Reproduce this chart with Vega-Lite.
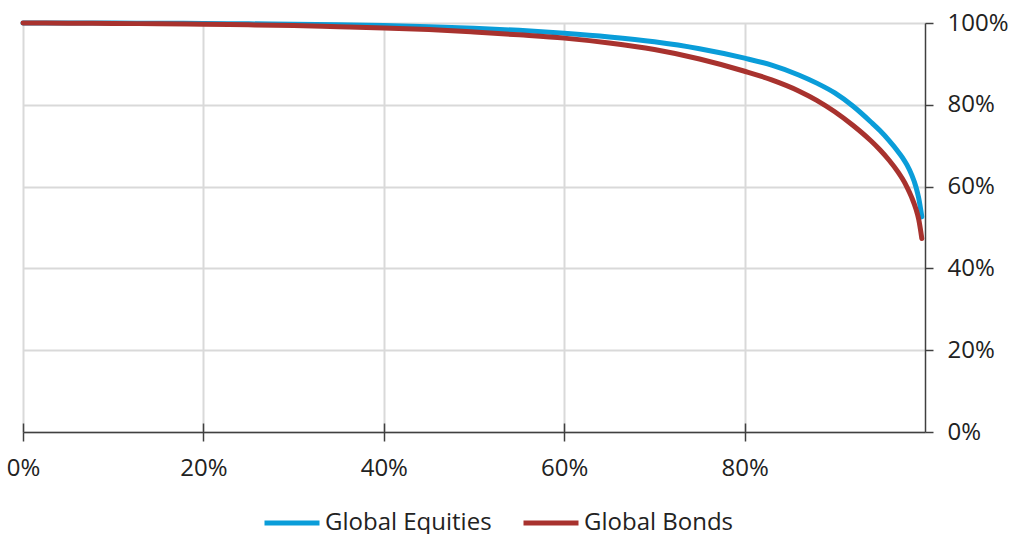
{
  "$schema": "https://vega.github.io/schema/vega-lite/v6.json",
  "autosize": {"type": "none"},
  "width": 902,
  "height": 409,
  "padding": {"left": 23, "top": 23, "right": 91, "bottom": 102},
  "background": "white",
  "config": {
    "font": "Open Sans",
    "view": {"stroke": null},
    "axis": {"labelFont": "Open Sans", "labelFontSize": 24, "labelColor": "#222222", "domainColor": "#404040", "domainWidth": 1.5, "tickColor": "#404040", "tickWidth": 1.5, "gridColor": "#d9d9d9", "gridWidth": 2, "title": null}
  },
  "data": {
    "values": [
      {"p": 0, "series": "Global Equities", "value": 1.0},
      {"p": 0.05, "series": "Global Equities", "value": 1.0},
      {"p": 0.1, "series": "Global Equities", "value": 0.9998},
      {"p": 0.15, "series": "Global Equities", "value": 0.9995},
      {"p": 0.2, "series": "Global Equities", "value": 0.999},
      {"p": 0.25, "series": "Global Equities", "value": 0.998},
      {"p": 0.3, "series": "Global Equities", "value": 0.997},
      {"p": 0.35, "series": "Global Equities", "value": 0.996},
      {"p": 0.4, "series": "Global Equities", "value": 0.994},
      {"p": 0.45, "series": "Global Equities", "value": 0.991},
      {"p": 0.5, "series": "Global Equities", "value": 0.987},
      {"p": 0.55, "series": "Global Equities", "value": 0.982},
      {"p": 0.6, "series": "Global Equities", "value": 0.975},
      {"p": 0.65, "series": "Global Equities", "value": 0.966},
      {"p": 0.7, "series": "Global Equities", "value": 0.954},
      {"p": 0.75, "series": "Global Equities", "value": 0.937},
      {"p": 0.8, "series": "Global Equities", "value": 0.914},
      {"p": 0.83, "series": "Global Equities", "value": 0.897},
      {"p": 0.86, "series": "Global Equities", "value": 0.873},
      {"p": 0.88, "series": "Global Equities", "value": 0.853},
      {"p": 0.9, "series": "Global Equities", "value": 0.829},
      {"p": 0.92, "series": "Global Equities", "value": 0.797},
      {"p": 0.94, "series": "Global Equities", "value": 0.758},
      {"p": 0.95, "series": "Global Equities", "value": 0.737},
      {"p": 0.96, "series": "Global Equities", "value": 0.713},
      {"p": 0.97, "series": "Global Equities", "value": 0.686},
      {"p": 0.975, "series": "Global Equities", "value": 0.671},
      {"p": 0.98, "series": "Global Equities", "value": 0.653},
      {"p": 0.985, "series": "Global Equities", "value": 0.63},
      {"p": 0.99, "series": "Global Equities", "value": 0.599},
      {"p": 0.993, "series": "Global Equities", "value": 0.572},
      {"p": 0.9965, "series": "Global Equities", "value": 0.526},
      {"p": 0, "series": "Global Bonds", "value": 1.0},
      {"p": 0.05, "series": "Global Bonds", "value": 0.9995},
      {"p": 0.1, "series": "Global Bonds", "value": 0.999},
      {"p": 0.15, "series": "Global Bonds", "value": 0.998},
      {"p": 0.2, "series": "Global Bonds", "value": 0.997},
      {"p": 0.25, "series": "Global Bonds", "value": 0.9955},
      {"p": 0.3, "series": "Global Bonds", "value": 0.994},
      {"p": 0.35, "series": "Global Bonds", "value": 0.991},
      {"p": 0.4, "series": "Global Bonds", "value": 0.988},
      {"p": 0.45, "series": "Global Bonds", "value": 0.984},
      {"p": 0.5, "series": "Global Bonds", "value": 0.978},
      {"p": 0.55, "series": "Global Bonds", "value": 0.971},
      {"p": 0.6, "series": "Global Bonds", "value": 0.963},
      {"p": 0.65, "series": "Global Bonds", "value": 0.951},
      {"p": 0.7, "series": "Global Bonds", "value": 0.935},
      {"p": 0.75, "series": "Global Bonds", "value": 0.912},
      {"p": 0.8, "series": "Global Bonds", "value": 0.882},
      {"p": 0.83, "series": "Global Bonds", "value": 0.861},
      {"p": 0.86, "series": "Global Bonds", "value": 0.834},
      {"p": 0.88, "series": "Global Bonds", "value": 0.811},
      {"p": 0.9, "series": "Global Bonds", "value": 0.783},
      {"p": 0.92, "series": "Global Bonds", "value": 0.75},
      {"p": 0.94, "series": "Global Bonds", "value": 0.712},
      {"p": 0.95, "series": "Global Bonds", "value": 0.69},
      {"p": 0.96, "series": "Global Bonds", "value": 0.665},
      {"p": 0.97, "series": "Global Bonds", "value": 0.636},
      {"p": 0.975, "series": "Global Bonds", "value": 0.619},
      {"p": 0.98, "series": "Global Bonds", "value": 0.599},
      {"p": 0.985, "series": "Global Bonds", "value": 0.575},
      {"p": 0.99, "series": "Global Bonds", "value": 0.545},
      {"p": 0.993, "series": "Global Bonds", "value": 0.52},
      {"p": 0.9965, "series": "Global Bonds", "value": 0.473}
    ]
  },
  "encoding": {
    "x": {"field": "p", "type": "quantitative", "scale": {"domain": [0, 1], "nice": false}},
    "y": {"field": "value", "type": "quantitative", "scale": {"domain": [0, 1], "nice": false}},
    "color": {
      "field": "series", "type": "nominal",
      "scale": {"domain": ["Global Equities", "Global Bonds"], "range": ["#0A9DD9", "#A8322E"]},
      "legend": {"orient": "none", "legendX": 239, "legendY": 470, "direction": "horizontal", "title": null, "symbolType": "stroke", "symbolSize": 3025, "symbolStrokeWidth": 5, "labelFontSize": 24, "labelFont": "Open Sans", "labelColor": "#222222", "labelOffset": 3, "columnPadding": 21, "labelLimit": 400}
    }
  },
  "layer": [
    {
      "transform": [{"filter": "datum.series === 'Global Equities'"}],
      "mark": {"type": "line", "strokeWidth": 5, "strokeCap": "round", "strokeJoin": "round", "interpolate": "monotone"},
      "encoding": {
        "x": {"field": "p", "type": "quantitative", "axis": {"orient": "bottom", "values": [0, 0.2, 0.4, 0.6, 0.8], "format": ".0%", "grid": true, "tickSize": 9, "labelPadding": 15, "labelFlush": false}},
        "y": {"field": "value", "type": "quantitative", "axis": {"orient": "right", "values": [0, 0.2, 0.4, 0.6, 0.8, 1], "format": ".0%", "grid": true, "tickSize": 8, "labelPadding": 14}}
      }
    },
    {
      "transform": [{"filter": "datum.series === 'Global Bonds'"}],
      "mark": {"type": "line", "strokeWidth": 5, "strokeCap": "round", "strokeJoin": "round", "interpolate": "monotone"},
      "encoding": {
        "x": {"field": "p", "type": "quantitative", "axis": {"orient": "bottom", "values": [0, 0.2, 0.4, 0.6, 0.8], "labels": false, "domain": false, "grid": false, "tickSize": -9}}
      }
    }
  ],
  "resolve": {"axis": {"x": "independent"}}
}
